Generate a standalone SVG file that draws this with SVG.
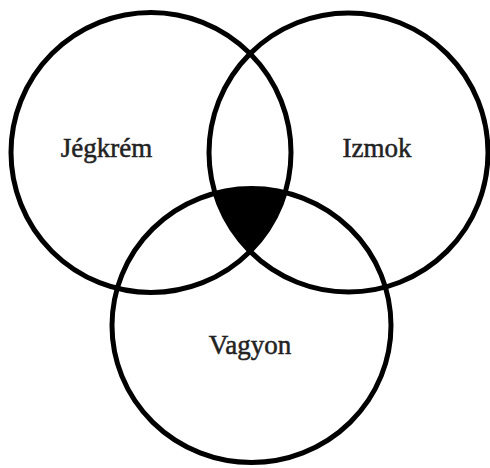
<svg xmlns="http://www.w3.org/2000/svg" width="490" height="468" viewBox="0 0 490 468">
<style>
.c{fill:none;stroke:#000;stroke-width:5}
.t{font-family:"Liberation Serif","Times New Roman",serif;font-size:27px;fill:#222;stroke:#222;stroke-width:0.5;text-anchor:middle}
</style>
<defs>
<clipPath id="clipL"><circle cx="151" cy="152.5" r="140"/></clipPath>
<clipPath id="clipR"><circle cx="348.5" cy="152.5" r="139.5"/></clipPath>
</defs>
<rect width="490" height="468" fill="#fff"/>
<g id="overlap">
<g clip-path="url(#clipL)">
<g clip-path="url(#clipR)">
<ellipse cx="251.5" cy="325.5" rx="139.5" ry="137" fill="#000"/>
</g>
</g>
</g>
<g id="jegkrem">
<circle class="c" cx="151" cy="152.5" r="140"/>
<text class="t" x="106.5" y="157">Jégkrém</text>
</g>
<g id="izmok">
<circle class="c" cx="348.5" cy="152.5" r="139.5"/>
<text class="t" x="377" y="157">Izmok</text>
</g>
<g id="vagyon">
<ellipse class="c" cx="251.5" cy="325.5" rx="139.5" ry="137"/>
<text class="t" x="250" y="354">Vagyon</text>
</g>
<g id="connectors"/>
</svg>
